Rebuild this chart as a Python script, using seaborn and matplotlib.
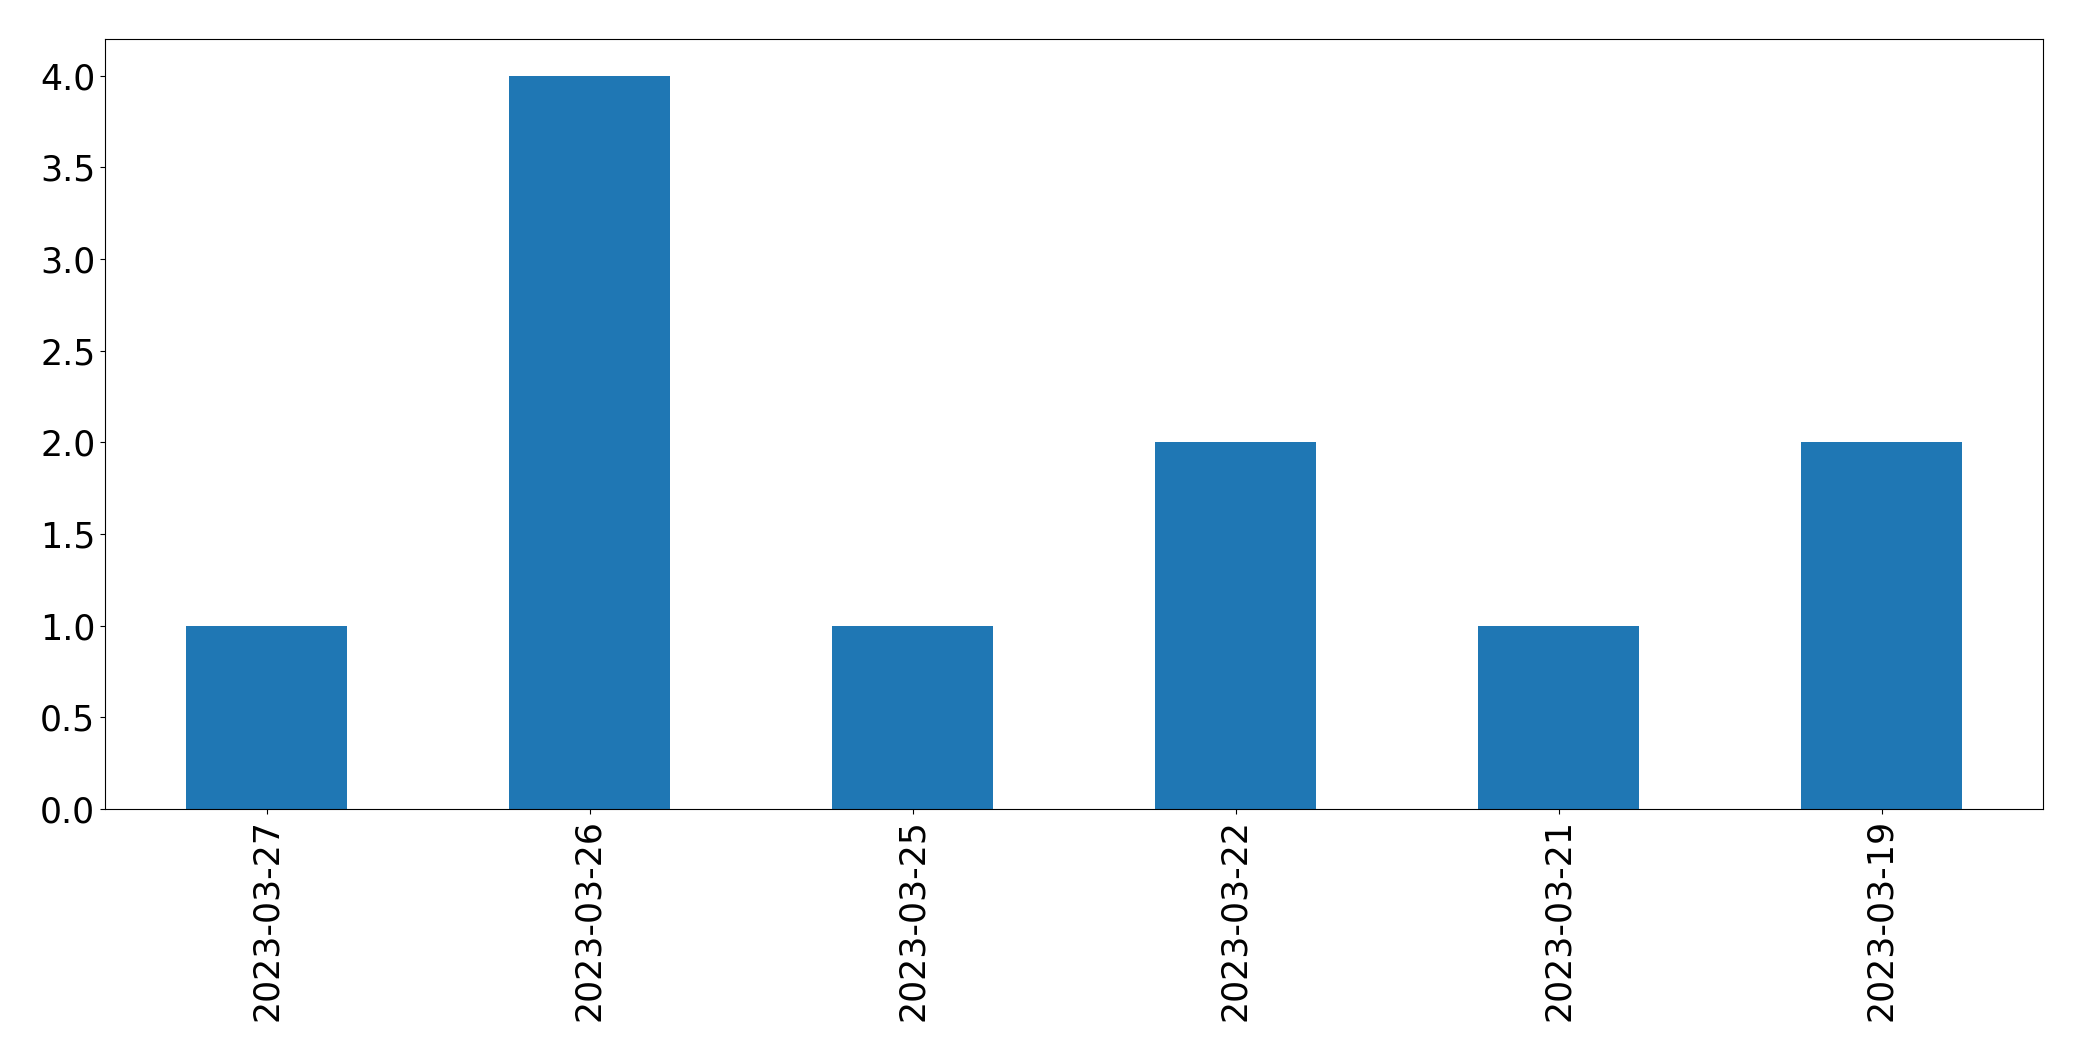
import matplotlib
matplotlib.use("Agg")
import matplotlib.pyplot as plt
import seaborn as sns
import pandas as pd

dates = ["2023-03-27", "2023-03-26", "2023-03-25", "2023-03-22", "2023-03-21", "2023-03-19"]
counts = [1, 4, 1, 2, 1, 2]

df = pd.DataFrame({"date": dates, "count": counts})

fig = plt.figure(figsize=(20.82, 10.61), dpi=100)
ax = fig.add_axes([105 / 2082, 1 - 809 / 1061, (2043 - 105) / 2082, (809 - 39) / 1061])
sns.barplot(data=df, x="date", y="count", order=dates, color="#1f77b4",
            saturation=1, width=0.5, ax=ax, errorbar=None)
ax.set_xlim(-0.5, len(dates) - 0.5)
ax.set_ylim(0, 4.2)
ax.set_xlabel("")
ax.set_ylabel("")
ax.tick_params(axis="both", labelsize=25)
ax.tick_params(axis="x", rotation=90)
fig.savefig("out.png", dpi=100)
